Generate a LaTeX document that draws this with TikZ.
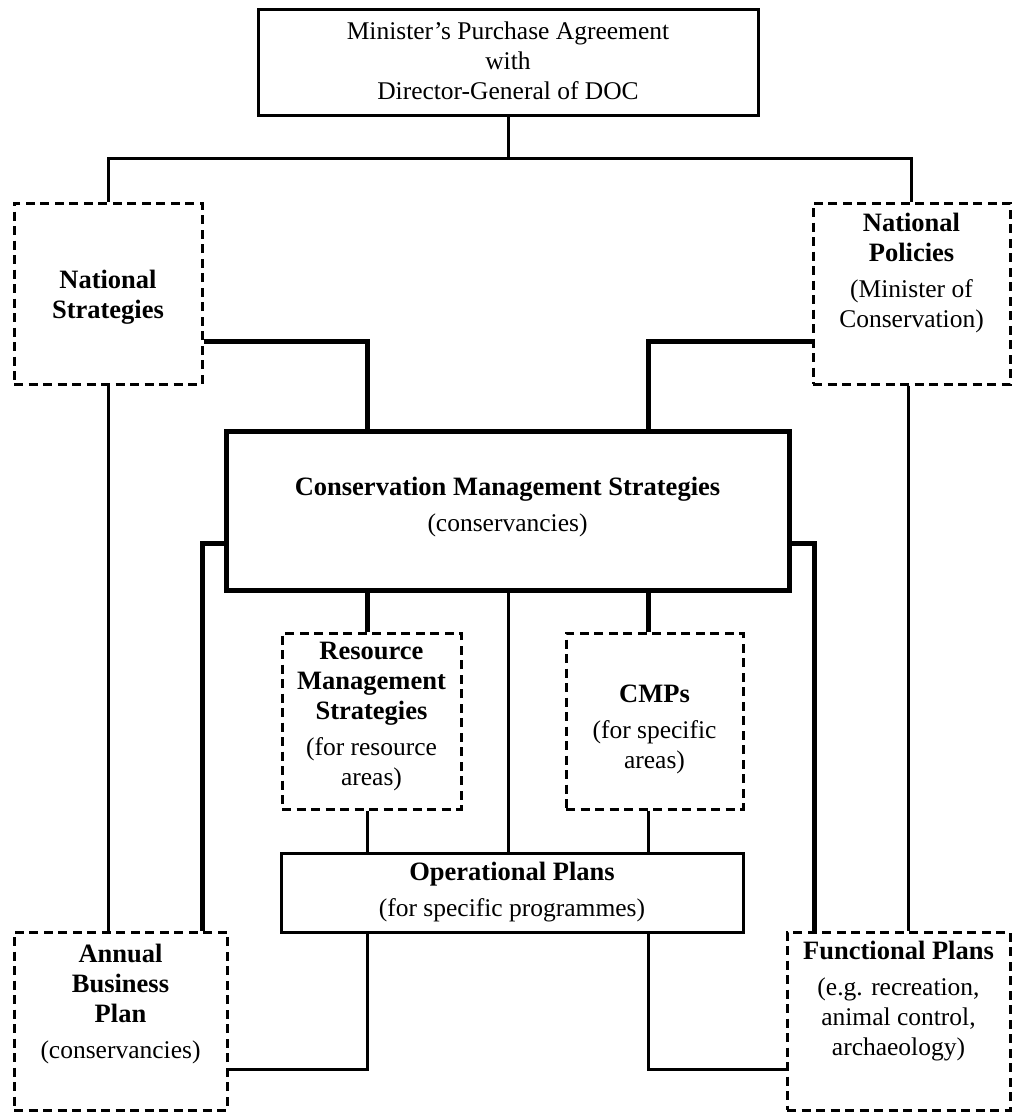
\documentclass[tikz,border=0pt]{standalone}
\usepackage{fontspec}
\setmainfont{Liberation Serif}
% bold heading lines are set a touch larger than the plain lines
\newcommand{\hd}[1]{{\fontsize{26.5}{30}\selectfont\bfseries #1}}
\begin{document}
\begin{tikzpicture}[x=1pt,y=-1pt,
  thinline/.style={line width=3pt},
  thickline/.style={line width=5pt},
  solidbox/.style={draw, line width=3pt, rectangle, inner sep=0pt},
  heavybox/.style={draw, line width=5pt, rectangle, inner sep=0pt},
  dashbox/.style={draw, line width=3pt, dash pattern=on 9pt off 5.5pt, rectangle, inner sep=0pt},
  txt/.style={align=center, font=\fontsize{25.5}{30}\selectfont, inner sep=0pt},
]
\useasboundingbox (0,0) rectangle (1012,1112);

% boxes
\node[solidbox, minimum width=500pt, minimum height=106pt] (mpa) at (508,62) {};
\node[dashbox, minimum width=188pt, minimum height=181pt] (ns) at (108,293.5) {};
\node[dashbox, minimum width=197pt, minimum height=181pt] (np) at (911.5,293.5) {};
\node[heavybox, minimum width=563pt, minimum height=159pt] (cms) at (507.5,510.5) {};
\node[dashbox, minimum width=179pt, minimum height=176pt] (rms) at (371.5,721) {};
\node[dashbox, minimum width=177pt, minimum height=176pt] (cmps) at (654.5,721) {};
\node[solidbox, minimum width=462pt, minimum height=79pt] (op) at (512,892.5) {};
\node[dashbox, minimum width=213pt, minimum height=178pt] (abp) at (120.5,1021) {};
\node[dashbox, minimum width=223pt, minimum height=178pt] (fp) at (898.5,1021) {};

% texts
\node[txt] (mpatxt) at (508,61) {Minister’s Purchase Agreement\\with\\Director-General of DOC};
\node[txt] (nstxt) at (108,297) {\hd{National}\\\hd{Strategies}};
\node[txt] (nptxt) at (911.5,273) {\hd{National}\\\hd{Policies}\\[6pt](Minister of\\Conservation)};
\node[txt] (cmstxt) at (507.5,507) {\hd{Conservation Management Strategies}\\[6pt](conservancies)};
\node[txt] (rmstxt) at (371.5,717) {\hd{Resource}\\\hd{Management}\\\hd{Strategies}\\[6pt](for resource\\areas)};
\node[txt] (cmpstxt) at (654.5,729) {\hd{CMPs}\\[6pt](for specific\\areas)};
\node[txt] (optxt) at (512,892) {\hd{Operational Plans}\\[6pt](for specific programmes)};
\node[txt] (abptxt) at (120.5,1004) {\hd{Annual}\\\hd{Business}\\\hd{Plan}\\[6pt](conservancies)};
\node[txt] (fptxt) at (898.5,1001) {\hd{Functional Plans}\\[6pt](e.g. recreation,\\animal control,\\archaeology)};

% thin connectors
\draw[thinline] (mpa.south) -- (mpa.south |- 0,158) coordinate (split);
\draw[thinline] (ns.north) -- (ns.north |- split) -- (np.north |- split) -- (np.north);
\draw[thinline] (ns.south) -- (ns.south |- abp.north);
\draw[thinline] (np.south -| 908,0) -- (fp.north -| 908,0);
\draw[thinline] (cms.south -| 508,0) -- (op.north -| 508,0);
\draw[thinline] (rms.south -| 367,0) -- (op.north -| 367,0);
\draw[thinline] (cmps.south -| 648,0) -- (op.north -| 648,0);
\draw[thinline] (op.south -| 367,0) |- (abp.east |- 0,1069);
\draw[thinline] (op.south -| 648,0) |- (fp.west |- 0,1069);

% thick connectors
\draw[thickline] (ns.east |- 0,341) -| (cms.north -| 367,0);
\draw[thickline] (np.west |- 0,341) -| (cms.north -| 648,0);
\draw[thickline] (cms.west |- 0,543) -| (abp.north -| 202,0);
\draw[thickline] (cms.east |- 0,543) -| (fp.north -| 814,0);
\draw[thickline] (cms.south -| 367,0) -- (rms.north -| 367,0);
\draw[thickline] (cms.south -| 648,0) -- (cmps.north -| 648,0);
\end{tikzpicture}
\end{document}
